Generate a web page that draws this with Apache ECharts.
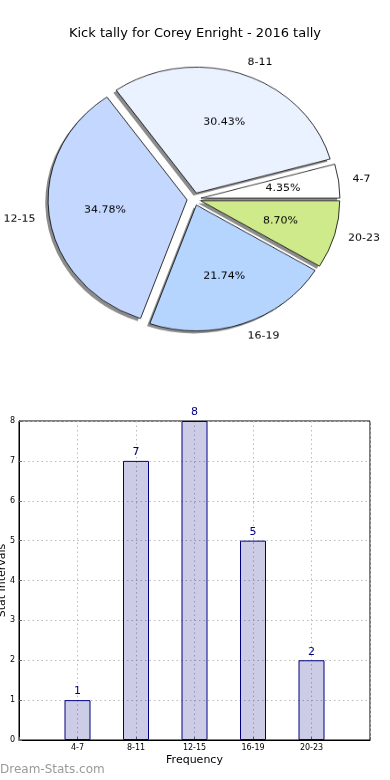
<!DOCTYPE html>
<html><head><meta charset="utf-8">
<script src="https://cdn.jsdelivr.net/npm/echarts@6/dist/echarts.min.js"></script>
<style>
html,body{margin:0;padding:0;background:#fff}
#wrap{position:relative;width:390px;height:780px}
#c{position:absolute;left:0;top:0;width:390px;height:780px}
#p{position:absolute;left:0;top:0;width:390px;height:400px;transform:scaleY(0.906);transform-origin:194px 199px}
</style>
</head><body><div id="wrap"><div id="c"></div><div id="p"></div></div>
<script>
const titleText = 'Kick tally for Corey Enright - 2016 tally';
const categories = ['4-7', '8-11', '12-15', '16-19', '20-23'];
const counts = [1, 7, 8, 5, 2];
const sliceColors = ['#FFFFFF', '#EAF1FF', '#C4D8FF', '#B5D5FF', '#CFEA8A'];
const yTicks = [0, 1, 2, 3, 4, 5, 6, 7, 8];
const xName = 'Frequency';
const yName = 'Stat Intervals';
const watermark = 'Dream-Stats.com';

const FONT = 'DejaVu Sans';
const chart = echarts.init(document.getElementById('c'), null, {renderer: 'canvas'});
const pieChart = echarts.init(document.getElementById('p'), null, {renderer: 'canvas'});

const pieCenter = [194, 199];
const R = 139;
const explode = 7;
const shadowOff = 2.8;

const mainOption = {
  animation: false,
  textStyle: {fontFamily: FONT},
  title: {
    text: titleText, left: 'center', top: 22,
    textStyle: {fontFamily: FONT, fontSize: 13, fontWeight: 'normal', color: '#000'}
  },
  graphic: [{
    type: 'text', left: 0, top: 764,
    style: {text: watermark, fill: '#9a9a9a', font: '12px "DejaVu Sans"'}
  }],
  grid: {
    left: 19, right: 20, top: 421, bottom: 40,
    containLabel: false, outerBoundsMode: 'none',
    show: true, borderColor: '#000', borderWidth: 1
  },
  xAxis: {
    type: 'value', min: -1, max: 5, interval: 1,
    name: xName, nameLocation: 'middle', nameGap: 15,
    nameTextStyle: {fontFamily: FONT, fontSize: 11, color: '#000'},
    axisLine: {show: true, onZero: false, lineStyle: {color: '#000'}},
    axisTick: {show: true, inside: true, length: 3, lineStyle: {color: '#666'}},
    axisLabel: {
      fontFamily: FONT, fontSize: 8, color: '#000', margin: 4,
      formatter: v => (categories[v] !== undefined ? categories[v] : '')
    },
    splitLine: {show: true, lineStyle: {color: '#bbb', type: [1.5, 3], width: 1}}
  },
  yAxis: {
    type: 'value', min: yTicks[0], max: yTicks[yTicks.length - 1], interval: 1,
    name: yName, nameLocation: 'middle', nameGap: 11, nameRotate: 90,
    nameMoveOverlap: false,
    nameTextStyle: {fontFamily: FONT, fontSize: 11, color: '#000'},
    axisLine: {show: true, onZero: false, lineStyle: {color: '#000'}},
    axisTick: {show: true, inside: true, length: 3, lineStyle: {color: '#666'}},
    axisLabel: {fontFamily: FONT, fontSize: 8, color: '#000', margin: 4},
    splitLine: {show: true, lineStyle: {color: '#bbb', type: [1.5, 3], width: 1}}
  },
  series: [
    {
      type: 'bar',
      data: counts.map((v, i) => [i, v]),
      barWidth: 26,
      itemStyle: {color: 'rgba(0,0,128,0.2)', borderColor: '#000080', borderWidth: 1},
      label: {show: true, position: 'top', distance: 3, fontFamily: FONT, fontSize: 11, color: '#000080'},
      emphasis: {disabled: true}
    }
  ]
};

const pieCommon = {
  type: 'pie', startAngle: 0, clockwise: false,
  selectedMode: 'multiple', selectedOffset: explode,
  avoidLabelOverlap: false, silent: true,
  emphasis: {disabled: true}
};

const pieOption = {
  animation: false,
  backgroundColor: 'transparent',
  textStyle: {fontFamily: FONT},
  series: [
    Object.assign({}, pieCommon, {
      center: [pieCenter[0] - shadowOff, pieCenter[1] + shadowOff], radius: [0, R],
      itemStyle: {color: 'rgba(0,0,0,0.45)', borderWidth: 0},
      label: {show: false}, labelLine: {show: false},
      data: categories.map((c, i) => ({name: c, value: counts[i], selected: true}))
    }),
    Object.assign({}, pieCommon, {
      center: pieCenter, radius: [0, R],
      itemStyle: {borderColor: '#000', borderWidth: 0.8},
      label: {show: true, position: 'outside', distanceToLabelLine: 0, fontFamily: FONT, fontSize: 11, color: '#000', formatter: '{b}'},
      labelLine: {show: false, length: 14, length2: 0},
      data: categories.map((c, i) => ({name: c, value: counts[i], selected: true, itemStyle: {color: sliceColors[i]}}))
    }),
    Object.assign({}, pieCommon, {
      center: pieCenter, radius: [0, R * 1.15],
      itemStyle: {color: 'rgba(0,0,0,0)', borderWidth: 0},
      label: {
        show: true, position: 'inside', fontFamily: FONT, fontSize: 11, color: '#000',
        formatter: p => p.percent.toFixed(2) + '%'
      },
      labelLine: {show: false},
      data: categories.map((c, i) => ({name: c, value: counts[i], selected: true}))
    })
  ]
};
chart.setOption(mainOption);
pieChart.setOption(pieOption);
</script></body></html>
